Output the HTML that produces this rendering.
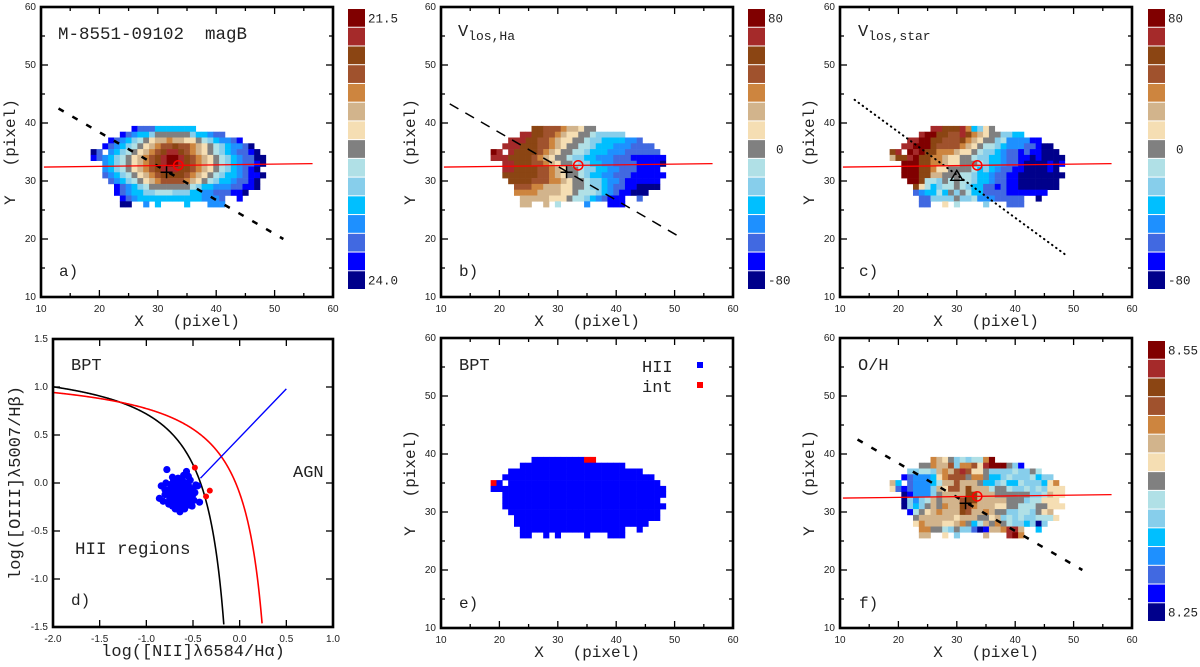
<!DOCTYPE html>
<html><head><meta charset="utf-8"><title>M-8551-09102 maps</title>
<style>
html,body{margin:0;padding:0;background:#fff;}
svg{display:block;}
.tk{font-family:"Liberation Sans",sans-serif;font-size:10px;fill:#222;}
.mono{font-family:"Liberation Mono",monospace;fill:#222;}
</style></head>
<body>
<svg id="fig" xmlns="http://www.w3.org/2000/svg" width="1200" height="667" viewBox="0 0 1200 667"></svg>
<script>
// ---- data ----
const palette=['#800000','#a52a2a','#8b4513','#a0522d','#cd853f','#d2b48c','#f5deb3','#808080','#b0e0e6','#87ceeb','#00bfff','#1e90ff','#4169e1','#0000ff','#00008b'];
const gridX0=19; // first column X
const gridYs=[39,38,37,36,35,34,33,32,31,30,29,28,27,26];
const magB=[
".......dcccaaaaaaa............",
".....dcbaa97777779aabcc.......",
"...dcba98765545566789abbcd....",
"..dcba98765433233456789abbce..",
"ec.ba987654321123456789abccde.",
"dcba98765432100123456789abccee",
"..ba98765432100123456789abccde",
"..ba98765432111223456789abcde.",
"..cba987654322223456789aabcdde",
"...cba9876543333456789aabccde.",
"....dcba98777777789aabbbccdde.",
"....dcbaa99888999aabbcccdde...",
".....dcbaaaaaaaaaaabbbc..d....",
".....ee..b.a....a...bbb......."];
const vHa=[
".......22333455677............",
".....112233456677899999.......",
"...1112233456677899aaaabbc....",
"..1112223345677889aaabbbcccc..",
"01.12222345677889aaabbbcccccc.",
"1112222345677899aabbbcccdddddd",
"..112223345677899aabbccccdddde",
"..1122223345677899aabbcccdddd.",
"..222222334567789aabbcccdddddd",
"...2222333445677899abbcdddddd.",
"....333445556677899abccddeeee.",
"....444455556678889abcddeee...",
".....555556667889abcddd..c....",
".....55..5.8....b...ddd......."];
const vStar=[
".......1122214a967............",
".....1002233124567799aa.......",
"...11002233324567798bbbbdd....",
"..11000233334567889abbbccdee..",
"21.010224445667899abccdcddeee.",
"52210224456677899aabccddedeeee",
"..000224456677789aabccdeeeeded",
"..0002246677778a9abccddeeeede.",
"..0002255777889aabccddeeeeeeee",
"...002889787889aabccddeeeeeee.",
"....268a988789aaccdcddeeeeeee.",
"....cbaa8a7978aaccccddddddd...",
".....cc99997998bbbccccc..e....",
".....cc..6.8....9...ccc......."];
const ohMap=[
".......45679898840............",
".....77455394436100079d.......",
"...99889545313667999989978....",
"..dcbbba643337447aa989998a99..",
"5a.cbbba85535557aa98aa8999a64.",
"6cdcbbb95633525558778998989666",
"..edbbb97555522555777777998566",
"..e9b985755532255555777988666.",
"..e9a9757455234555667788877666",
"...d876545552355457799889765.",
"....7555555655577659898998886.",
"....6455566547a85747899a9e9...",
".....447789799ced554115..a....",
".....55..6.9....5...104......."];
const bptRed=[[19,35],[35,39],[36,39]];
const bptX=[-0.78,-0.72,-0.70,-0.66,-0.63,-0.60,-0.58,-0.55,-0.53,-0.68,-0.74,-0.80,-0.84,-0.86,-0.76,-0.71,-0.65,-0.62,-0.59,-0.56,-0.52,-0.50,-0.48,-0.45,-0.43,-0.69,-0.64,-0.61,-0.57,-0.54,-0.82,-0.79,-0.73,-0.67,-0.63,-0.60,-0.58,-0.55,-0.62,-0.57,-0.51,-0.66,-0.70,-0.75,-0.68,-0.64,-0.60,-0.72,-0.56,-0.66,
 -0.77,-0.74,-0.71,-0.68,-0.65,-0.62,-0.59,-0.56,-0.53,-0.50,-0.76,-0.73,-0.70,-0.67,-0.64,-0.61,-0.58,-0.55,-0.52,-0.49,-0.75,-0.72,-0.69,-0.66,-0.63,-0.60,-0.57,-0.54,-0.71,-0.65,-0.59,-0.80,-0.47];
const bptY=[0.14,0.06,0.02,0.05,-0.02,0.08,0.0,0.07,0.03,-0.08,-0.05,-0.12,-0.03,-0.16,-0.2,-0.14,-0.18,-0.22,-0.26,-0.2,-0.15,-0.06,-0.1,-0.03,-0.2,-0.27,-0.3,-0.12,-0.09,-0.23,-0.19,0.0,-0.1,-0.13,-0.06,-0.16,-0.12,-0.02,-0.04,0.12,-0.24,-0.24,-0.1,-0.17,-0.02,-0.08,-0.06,-0.2,-0.12,-0.16,
 -0.08,-0.14,-0.05,-0.11,-0.21,-0.09,-0.23,-0.05,-0.13,-0.12,-0.22,-0.01,-0.18,-0.04,-0.13,0.02,-0.19,-0.15,-0.06,-0.18,-0.12,-0.24,-0.22,-0.26,-0.1,-0.01,-0.03,-0.17,0.04,0.03,-0.27,-0.07,-0.02];
const bptRedX=[-0.48,-0.36,-0.32];
const bptRedY=[0.16,-0.14,-0.08];
const xyTicks=['10','20','30','40','50','60'];
const bptXTicks=['-2.0','-1.5','-1.0','-0.5','0.0','0.5','1.0'];
const bptYTicks=['-1.5','-1.0','-0.5','0.0','0.5','1.0','1.5'];

// ---- drawing ----
const NS='http://www.w3.org/2000/svg';
const svg=document.getElementById('fig');
const SP='\u00a0\u00a0\u00a0';
function mk(tag,attrs,parent){const e=document.createElementNS(NS,tag);for(const k in attrs)e.setAttribute(k,attrs[k]);(parent||svg).appendChild(e);return e;}
function lin(d0,d1,r0,r1){return v=>r0+(v-d0)/(d1-d0)*(r1-r0);}

function frame(g,px0,px1,py0,py1,xmin,xmax,ymin,ymax,major,minor,xl,yl){
  const sx=lin(xmin,xmax,px0,px1), sy=lin(ymin,ymax,py1,py0);
  for(let v=xmin;v<=xmax+1e-9;v+=minor){const isM=Math.abs(Math.round((v-xmin)/major)*major-(v-xmin))<1e-6;const L=isM?7:4;const x=sx(v);
    mk('line',{x1:x,y1:py1,x2:x,y2:py1-L,stroke:'#000','stroke-width':1.3},g);mk('line',{x1:x,y1:py0,x2:x,y2:py0+L,stroke:'#000','stroke-width':1.3},g);}
  for(let v=ymin;v<=ymax+1e-9;v+=minor){const isM=Math.abs(Math.round((v-ymin)/major)*major-(v-ymin))<1e-6;const L=isM?7:4;const y=sy(v);
    mk('line',{x1:px0,y1:y,x2:px0+L,y2:y,stroke:'#000','stroke-width':1.3},g);mk('line',{x1:px1,y1:y,x2:px1-L,y2:y,stroke:'#000','stroke-width':1.3},g);}
  xl.forEach((t,i)=>{const e=mk('text',{x:sx(xmin+i*major),y:py1+15,'text-anchor':'middle',class:'tk'},g);e.textContent=t;
    
    });
  yl.forEach((t,i)=>{const e=mk('text',{x:px0-5,y:sy(ymin+i*major)+3,'text-anchor':'end',class:'tk'},g);e.textContent=t;
    
    });
  mk('rect',{x:px0,y:py0,width:px1-px0,height:py1-py0,fill:'none',stroke:'#000','stroke-width':2.6},g);
  return {sx,sy};
}
function txt(g,x,y,s,size,extra){const e=mk('text',Object.assign({x,y,class:'mono','font-size':size},extra||{}),g);e.textContent=s;return e;}

function mapPanel(name,px0,py0,rows,opts){
  const g=mk('g',{});
  
  
  const px1=px0+292, py1=py0+290;
  const sx=lin(10,60,px0,px1), sy=lin(10,60,py1,py0);
  const cg=mk('g',{},g);
  
  
  rows.forEach((r,ri)=>{const Y=gridYs[ri];for(let i=0;i<r.length;i++){const ch=r[i];if(ch==='.')continue;
    const X=gridX0+i;let col;
    if(opts.mono){col=opts.mono(X,Y);}else{col=palette[parseInt(ch,16)];}
    const c=mk('rect',{x:sx(X-0.5),y:sy(Y+0.5),width:sx(X+0.5)-sx(X-0.5)+0.3,height:sy(Y-0.5)-sy(Y+0.5)+0.3,fill:col},cg);
    
    }});
  if(opts.axis){const a=opts.axis;const l=mk('line',{x1:sx(a[0]),y1:sy(a[1]),x2:sx(a[2]),y2:sy(a[3]),stroke:'#000','stroke-width':a[4],'stroke-dasharray':a[5],'stroke-linecap':a[6]||'butt'},g);
    
    }
  if(opts.red){const l=mk('line',{x1:sx(10.5),y1:sy(32.4),x2:sx(56.5),y2:sy(33.0),stroke:'#ff0000','stroke-width':1.3},g);
    
    
    const c=mk('circle',{cx:sx(33.5),cy:sy(32.7),r:4.6,fill:'none',stroke:'#ff0000','stroke-width':1.5},g);
    
    }
  if(opts.plus){const x=sx(31.5),y=sy(31.5);const p=mk('path',{d:`M${x-6} ${y}H${x+6}M${x} ${y-6}V${y+6}`,stroke:'#000','stroke-width':1.5},g);
    
    }
  if(opts.tri){const x=sx(30),y=sy(30.8);const p=mk('path',{d:`M${x-6} ${y+4}L${x} ${y-6}L${x+6} ${y+4}Z`,fill:'none',stroke:'#000','stroke-width':1.4},g);
    
    }
  frame(g,px0,px1,py0,py1,10,60,10,60,10,5,xyTicks,xyTicks);
  const xt=txt(g,(px0+px1)/2,py1+29,'X'+SP+'(pixel)',16,{'text-anchor':'middle'});
  
  
  const yx=px0-26,yy=(py0+py1)/2;
  const yt=txt(g,yx,yy,'Y'+SP+'(pixel)',16,{'text-anchor':'middle',transform:`rotate(-90 ${yx} ${yy})`});
  
  
  return {g,sx,sy,px0,py0,px1,py1};
}
function colorbar(name,x,y0,y1,top,mid,bot){
  const g=mk('g',{});
  
  
  const h=(y1-y0)/15;
  palette.forEach((c,i)=>{const r=mk('rect',{x:x,y:y0+i*h,width:17,height:h-1,fill:c},g);
    
    });
  txt(g,x+20,y0+h/2+4,top,12.5);
  if(mid)txt(g,x+28,y0+7.5*h+4,mid,12.5);
  txt(g,x+20,y0+14.5*h+4,bot,12.5);
}
function sub(g,x,y,main,subs){const e=mk('text',{x,y,class:'mono','font-size':17},g);const a=mk('tspan',{},e);a.textContent=main;const b=mk('tspan',{'font-size':13,dy:4},e);b.textContent=subs;return e;}

// panel a
let P=mapPanel('panel-a-magB',41,7,magB,{red:true,plus:true,axis:[13,42.5,51.5,20,2.5,'6 10']});
let t=txt(P.g,58,39,'M-8551-09102\u00a0\u00a0magB',17.5);


txt(P.g,59,276,'a)',16);
colorbar('colorbar-a',348,9,290,'21.5','','24.0');

// panel b
P=mapPanel('panel-b-vlos-ha',441,7,vHa,{red:true,plus:true,axis:[11.5,43.3,51.5,20,1.5,'10 8']});
t=sub(P.g,458,36,'V','los,Ha');


txt(P.g,459,276,'b)',16);
colorbar('colorbar-b',748,9,290,'80','0','-80');

// panel c
P=mapPanel('panel-c-vlos-star',840,7,vStar,{red:true,tri:true,axis:[12.5,44,49,17,2,'0.5 4.5','round']});
t=sub(P.g,858,36,'V','los,star');


txt(P.g,859,276,'c)',16);
colorbar('colorbar-c',1148,9,290,'80','0','-80');

// panel e
const redSet=new Set(bptRed.map(p=>p[0]+','+p[1]));
P=mapPanel('panel-e-bpt-map',441,338,magB,{mono:(X,Y)=>redSet.has(X+','+Y)?'#ff0000':'#0000ff'});
txt(P.g,459,370,'BPT',17);
txt(P.g,642,372,'HII',17);txt(P.g,642,392,'int',17);
let s=mk('rect',{x:697,y:362,width:6,height:6,fill:'#0000ff'},P.g);


s=mk('rect',{x:697,y:382,width:6,height:6,fill:'#ff0000'},P.g);


txt(P.g,459,608,'e)',16);

// panel f
P=mapPanel('panel-f-oh',840,338,ohMap,{red:true,plus:true,axis:[13,42.5,51.5,20,2.5,'6 10']});
txt(P.g,858,370,'O/H',17);
txt(P.g,859,608,'f)',16);
colorbar('colorbar-f',1148,341,622,'8.55','','8.25');

// panel d (BPT diagram)
(function(){
  const g=mk('g',{});
  
  
  const px0=53,px1=333,py0=339,py1=627;
  const sx=lin(-2,1,px0,px1), sy=lin(-1.5,1.5,py1,py0);
  function curve(f,xmax,col,name){let d='';for(let x=-2;x<xmax;x+=0.005){const y=f(x);if(y<-1.5)break;d+=(d?'L':'M')+sx(x).toFixed(2)+' '+sy(y).toFixed(2);}
    const p=mk('path',{d,fill:'none',stroke:col,'stroke-width':1.6},g);
    
    }
  curve(x=>0.61/(x-0.05)+1.3,0.0,'#000','kauffmann-curve');
  curve(x=>0.61/(x-0.47)+1.19,0.4,'#ff0000','kewley-curve');
  const bl=mk('line',{x1:sx(-0.42),y1:sy(0.05),x2:sx(0.5),y2:sy(0.98),stroke:'#0000ff','stroke-width':1.4},g);
  
  
  bptX.forEach((x,i)=>{const c=mk('circle',{cx:sx(x),cy:sy(bptY[i]),r:3.6,fill:'#0000ff'},g);
    
    });
  bptRedX.forEach((x,i)=>{const c=mk('circle',{cx:sx(x),cy:sy(bptRedY[i]),r:3,fill:'#ff0000'},g);
    
    });
  frame(g,px0,px1,py0,py1,-2,1,-1.5,1.5,0.5,0.5,bptXTicks,bptYTicks);
  txt(g,71,370,'BPT',17);
  txt(g,75,554,'HII regions',17.5);
  txt(g,293,477,'AGN',17);
  txt(g,71,605,'d)',16);
  let e=txt(g,193,656,'log([NII]λ6584/Hα)',17,{'text-anchor':'middle','font-family':'"Liberation Mono","DejaVu Sans Mono",monospace'});
  
  
  e=txt(g,20,483,'log([OIII]λ5007/Hβ)',17,{'text-anchor':'middle',transform:'rotate(-90 20 483)','font-family':'"Liberation Mono","DejaVu Sans Mono",monospace'});
  
  
})();
</script>
</body></html>
